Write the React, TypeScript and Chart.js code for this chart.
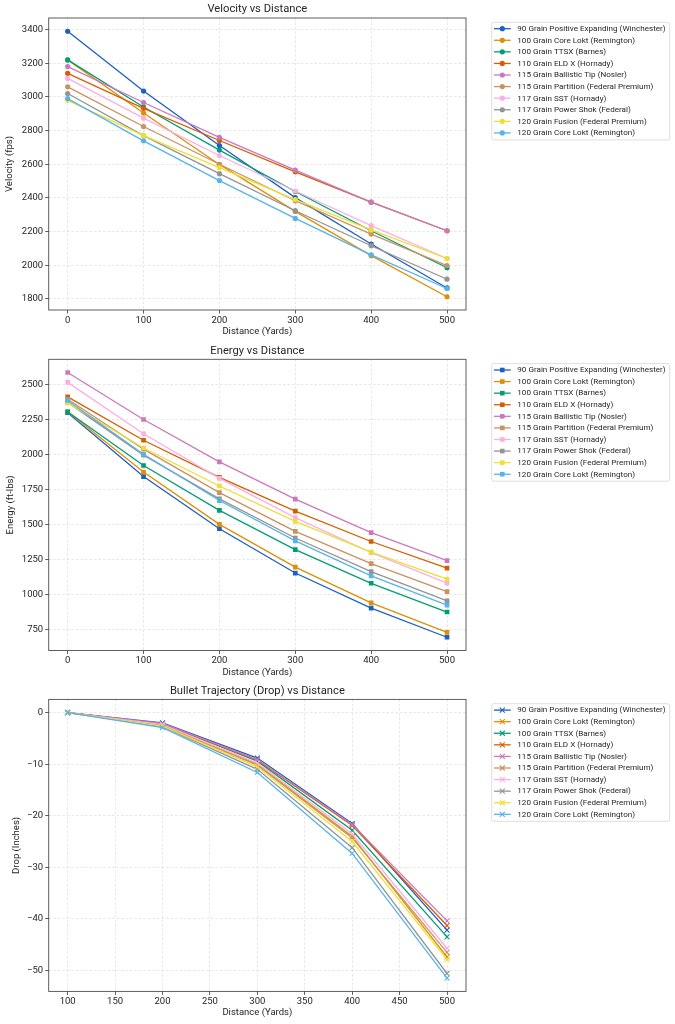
import React, { useEffect, useRef } from 'react';
import { Chart, registerables } from 'chart.js';

Chart.register(...registerables);

// ---------- data ----------
const loadNames = [
  '90 Grain Positive Expanding (Winchester)',
  '100 Grain Core Lokt (Remington)',
  '100 Grain TTSX (Barnes)',
  '110 Grain ELD X (Hornady)',
  '115 Grain Ballistic Tip (Nosler)',
  '115 Grain Partition (Federal Premium)',
  '117 Grain SST (Hornady)',
  '117 Grain Power Shok (Federal)',
  '120 Grain Fusion (Federal Premium)',
  '120 Grain Core Lokt (Remington)',
];

const seriesColors = [
  '#1d5fc2', '#de8f05', '#029e73', '#d55e00', '#cc78bc',
  '#ca9161', '#fbafe4', '#949494', '#ece133', '#56b4e9',
];

const distances = [0, 100, 200, 300, 400, 500];
const dropDistances = [100, 200, 300, 400, 500];

// Velocity (fps)
const vel90PEP = [3390, 3035, 2711, 2402, 2126, 1865];
const vel100CL = [3220, 2904, 2599, 2320, 2057, 1813];
const vel100TTSX = [3220, 2940, 2684, 2438, 2205, 1985];
const vel110ELDX = [3140, 2932, 2741, 2555, 2375, 2205];
const vel115BT = [3180, 2967, 2760, 2565, 2375, 2205];
const vel115Part = [3060, 2824, 2600, 2383, 2185, 1998];
const vel117SST = [3110, 2874, 2652, 2441, 2235, 2040];
const vel117PS = [3020, 2770, 2544, 2324, 2116, 1917];
const vel120Fusion = [2980, 2770, 2580, 2390, 2210, 2040];
const vel120CL = [2990, 2739, 2503, 2278, 2062, 1862];

// Energy (ft-lbs)
const en90PEP = [2297, 1841, 1469, 1153, 903, 695];
const en100CL = [2303, 1873, 1500, 1195, 940, 730];
const en100TTSX = [2303, 1920, 1600, 1320, 1080, 875];
const en110ELDX = [2409, 2100, 1835, 1595, 1378, 1188];
const en115BT = [2583, 2248, 1946, 1680, 1441, 1242];
const en115Part = [2392, 2037, 1727, 1450, 1220, 1020];
const en117SST = [2513, 2146, 1828, 1548, 1298, 1081];
const en117PS = [2370, 1994, 1682, 1403, 1163, 955];
const en120Fusion = [2367, 2045, 1774, 1522, 1302, 1109];
const en120CL = [2384, 2000, 1670, 1383, 1133, 924];

// Drop (inches), zeroed at 100 yards
const drop90PEP = [0, -2.0, -8.8, -21.5, -42.2];
const drop100CL = [0, -2.4, -10.0, -24.0, -47.4];
const drop100TTSX = [0, -2.2, -9.4, -22.8, -43.5];
const drop110ELDX = [0, -2.2, -9.2, -21.9, -41.3];
const drop115BT = [0, -2.1, -9.1, -21.7, -40.4];
const drop115Part = [0, -2.5, -10.2, -24.3, -46.5];
const drop117SST = [0, -2.3, -9.8, -23.5, -45.7];
const drop117PS = [0, -2.7, -11.0, -26.2, -50.6];
const drop120Fusion = [0, -2.6, -10.5, -25.0, -47.9];
const drop120CL = [0, -2.9, -11.6, -27.3, -51.5];

const velocitySeries = [vel90PEP, vel100CL, vel100TTSX, vel110ELDX, vel115BT, vel115Part, vel117SST, vel117PS, vel120Fusion, vel120CL];
const energySeries = [en90PEP, en100CL, en100TTSX, en110ELDX, en115BT, en115Part, en117SST, en117PS, en120Fusion, en120CL];
const dropSeries = [drop90PEP, drop100CL, drop100TTSX, drop110ELDX, drop115BT, drop115Part, drop117SST, drop117PS, drop120Fusion, drop120CL];

const distanceTicks = [0, 100, 200, 300, 400, 500];
const dropDistanceTicks = [100, 150, 200, 250, 300, 350, 400, 450, 500];
const velocityTicks = [1800, 2000, 2200, 2400, 2600, 2800, 3000, 3200, 3400];
const energyTicks = [750, 1000, 1250, 1500, 1750, 2000, 2250, 2500];
const dropTicks = [-50, -40, -30, -20, -10, 0];

// ---------- styling ----------
const FONT = 'Roboto, "DejaVu Sans", sans-serif';
const TEXT = '#262626';
const TICK_SIZE = 9.5;
const LABEL_SIZE = 9.5;
const TITLE_SIZE = 11.2;
const LEGEND_SIZE = 8.1;
const PLOT_LEFT = 48.7;
const PLOT_RIGHT = 466;
const CANVAS_W = 675;

type Marker = 'circle' | 'rect' | 'crossRot';

interface Spec {
  title: string;
  xLabel: string;
  yLabel: string;
  x: number[];
  series: number[][];
  xTicks: number[];
  yTicks: number[];
  marker: Marker;
  top: number;
  height: number;
  plotTop: number;
  xAxisH: number;
  xTitlePad: number;
  yTitlePad: number;
  minus?: boolean;
}

function padRange(vals: number[]): [number, number] {
  const lo = Math.min(...vals);
  const hi = Math.max(...vals);
  const m = (hi - lo) * 0.05;
  return [lo - m, hi + m];
}

function drawMarker(ctx: CanvasRenderingContext2D, m: Marker, x: number, y: number, color: string) {
  ctx.save();
  ctx.fillStyle = color;
  ctx.strokeStyle = color;
  if (m === 'circle') {
    ctx.beginPath();
    ctx.arc(x, y, 2.6, 0, Math.PI * 2);
    ctx.fill();
  } else if (m === 'rect') {
    ctx.fillRect(x - 2.3, y - 2.3, 4.6, 4.6);
  } else {
    const s = 2.5;
    ctx.lineWidth = 1.1;
    ctx.beginPath();
    ctx.moveTo(x - s, y - s);
    ctx.lineTo(x + s, y + s);
    ctx.moveTo(x + s, y - s);
    ctx.lineTo(x - s, y + s);
    ctx.stroke();
  }
  ctx.restore();
}

function makeConfig(spec: Spec): any {
  const allX = spec.x;
  const allY = spec.series.flat();
  const [xMin, xMax] = padRange(allX);
  const [yMin, yMax] = padRange(allY);
  const fmt = (v: number) => (spec.minus && v < 0 ? '\u2212' + Math.abs(v) : String(v));

  const datasets = spec.series.map((vals, i) => ({
    label: loadNames[i],
    data: spec.x.map((x, j) => ({ x, y: vals[j] })),
    borderColor: seriesColors[i],
    backgroundColor: seriesColors[i],
    borderWidth: 1.3,
    tension: 0,
    fill: false,
    order: -i,
    pointStyle: spec.marker,
    pointRadius: spec.marker === 'circle' ? 2.6 : spec.marker === 'rect' ? 3.3 : 3.5,
    pointBorderWidth: spec.marker === 'crossRot' ? 1.1 : 0,
    pointBorderColor: seriesColors[i],
    pointBackgroundColor: seriesColors[i],
    pointHoverRadius: 3,
  }));

  const legendTitlePlugin = {
    id: 'frameLegendTitle',
    afterDraw(chart: any) {
      const { ctx, chartArea } = chart;
      const { left, right, top, bottom } = chartArea;
      ctx.save();
      // frame
      ctx.strokeStyle = '#4d4d4d';
      ctx.lineWidth = 0.9;
      ctx.strokeRect(left, top, right - left, bottom - top);
      // title
      ctx.fillStyle = TEXT;
      ctx.font = `${TITLE_SIZE}px ${FONT}`;
      ctx.textAlign = 'center';
      ctx.textBaseline = 'middle';
      ctx.fillText(spec.title, (left + right) / 2, top - 8.4);
      // legend
      ctx.font = `${LEGEND_SIZE}px ${FONT}`;
      const textX = 517.3;
      let maxW = 0;
      loadNames.forEach((n) => { maxW = Math.max(maxW, ctx.measureText(n).width); });
      const boxL = 491.7;
      const boxT = top + 4.3;
      const boxW = textX + maxW + 4 - boxL;
      const rowH = 11.58;
      const boxH = rowH * loadNames.length + 1.8;
      ctx.beginPath();
      const r = 2;
      ctx.moveTo(boxL + r, boxT);
      ctx.lineTo(boxL + boxW - r, boxT);
      ctx.arcTo(boxL + boxW, boxT, boxL + boxW, boxT + r, r);
      ctx.lineTo(boxL + boxW, boxT + boxH - r);
      ctx.arcTo(boxL + boxW, boxT + boxH, boxL + boxW - r, boxT + boxH, r);
      ctx.lineTo(boxL + r, boxT + boxH);
      ctx.arcTo(boxL, boxT + boxH, boxL, boxT + boxH - r, r);
      ctx.lineTo(boxL, boxT + r);
      ctx.arcTo(boxL, boxT, boxL + r, boxT, r);
      ctx.closePath();
      ctx.fillStyle = 'rgba(255,255,255,0.8)';
      ctx.fill();
      ctx.strokeStyle = '#d6d6d6';
      ctx.lineWidth = 0.8;
      ctx.stroke();
      loadNames.forEach((name, i) => {
        const y = boxT + 6.4 + i * rowH;
        const c = seriesColors[i];
        ctx.strokeStyle = c;
        ctx.lineWidth = 1.3;
        ctx.beginPath();
        ctx.moveTo(494, y);
        ctx.lineTo(510.7, y);
        ctx.stroke();
        drawMarker(ctx, spec.marker, 502.3, y, c);
        ctx.fillStyle = TEXT;
        ctx.textAlign = 'left';
        ctx.textBaseline = 'middle';
        ctx.fillText(name, textX, y + 0.3);
      });
      ctx.restore();
    },
  };

  const tickFont = { family: FONT, size: TICK_SIZE };
  const labelFont = { family: FONT, size: LABEL_SIZE };
  const gridCommon = {
    color: '#dcdcdc',
    lineWidth: 0.7,
    drawTicks: true,
    tickLength: 3.5,
    tickColor: '#4d4d4d',
    tickWidth: 0.9,
    tickBorderDash: [],
  };

  return {
    type: 'line',
    data: { datasets },
    plugins: [legendTitlePlugin],
    options: {
      animation: false,
      responsive: false,
      maintainAspectRatio: false,
      devicePixelRatio: 1,
      layout: { padding: { left: 0, right: CANVAS_W - PLOT_RIGHT, top: spec.plotTop, bottom: 0 } },
      plugins: {
        legend: { display: false },
        tooltip: { enabled: false },
        title: { display: false },
      },
      scales: {
        x: {
          type: 'linear',
          min: xMin,
          max: xMax,
          afterBuildTicks: (s: any) => { s.ticks = spec.xTicks.map((v) => ({ value: v })); },
          afterFit: (s: any) => { s.height = spec.xAxisH; },
          ticks: { font: tickFont, color: TEXT, padding: 1, maxRotation: 0, autoSkip: false, callback: (v: number) => fmt(v) },
          grid: gridCommon,
          border: { display: false, dash: [2.5, 2] },
          title: { display: true, text: spec.xLabel, font: labelFont, color: TEXT, padding: { top: 0, bottom: spec.xTitlePad } },
        },
        y: {
          type: 'linear',
          min: yMin,
          max: yMax,
          afterBuildTicks: (s: any) => { s.ticks = spec.yTicks.map((v) => ({ value: v })); },
          afterFit: (s: any) => { s.width = PLOT_LEFT; },
          ticks: { font: tickFont, color: TEXT, padding: 2, autoSkip: false, callback: (v: number) => fmt(v) },
          grid: gridCommon,
          border: { display: false, dash: [2.5, 2] },
          title: { display: true, text: spec.yLabel, font: labelFont, color: TEXT, padding: { top: spec.yTitlePad, bottom: 0 } },
        },
      },
    },
  };
}

const specs: Spec[] = [
  {
    title: 'Velocity vs Distance', xLabel: 'Distance (Yards)', yLabel: 'Velocity (fps)',
    x: distances, series: velocitySeries, xTicks: distanceTicks, yTicks: velocityTicks, marker: 'circle',
    top: 0, height: 340, plotTop: 18, xAxisH: 30, xTitlePad: 2.5, yTitlePad: 4.3,
  },
  {
    title: 'Energy vs Distance', xLabel: 'Distance (Yards)', yLabel: 'Energy (ft-lbs)',
    x: distances, series: energySeries, xTicks: distanceTicks, yTicks: energyTicks, marker: 'rect',
    top: 340, height: 340, plotTop: 19.3, xAxisH: 29.5, xTitlePad: 2, yTitlePad: 5,
  },
  {
    title: 'Bullet Trajectory (Drop) vs Distance', xLabel: 'Distance (Yards)', yLabel: 'Drop (Inches)',
    x: dropDistances, series: dropSeries, xTicks: dropDistanceTicks, yTicks: dropTicks, marker: 'crossRot',
    top: 680, height: 344, plotTop: 19.4, xAxisH: 32.6, xTitlePad: 5.6, yTitlePad: 11, minus: true,
  },
];

function ChartCanvas({ spec }: { spec: Spec }) {
  const ref = useRef<HTMLCanvasElement | null>(null);
  useEffect(() => {
    if (!ref.current) return;
    const chart = new Chart(ref.current, makeConfig(spec));
    return () => chart.destroy();
  }, [spec]);
  return (
    <canvas
      ref={ref}
      width={CANVAS_W}
      height={spec.height}
      style={{ position: 'absolute', left: 0, top: spec.top, width: CANVAS_W, height: spec.height, display: 'block' }}
    />
  );
}

export default function App() {
  return (
    <div style={{ position: 'absolute', left: 0, top: 0, width: CANVAS_W, height: 1024, background: '#fff' }}>
      {specs.map((s, i) => (
        <ChartCanvas key={i} spec={s} />
      ))}
    </div>
  );
}
